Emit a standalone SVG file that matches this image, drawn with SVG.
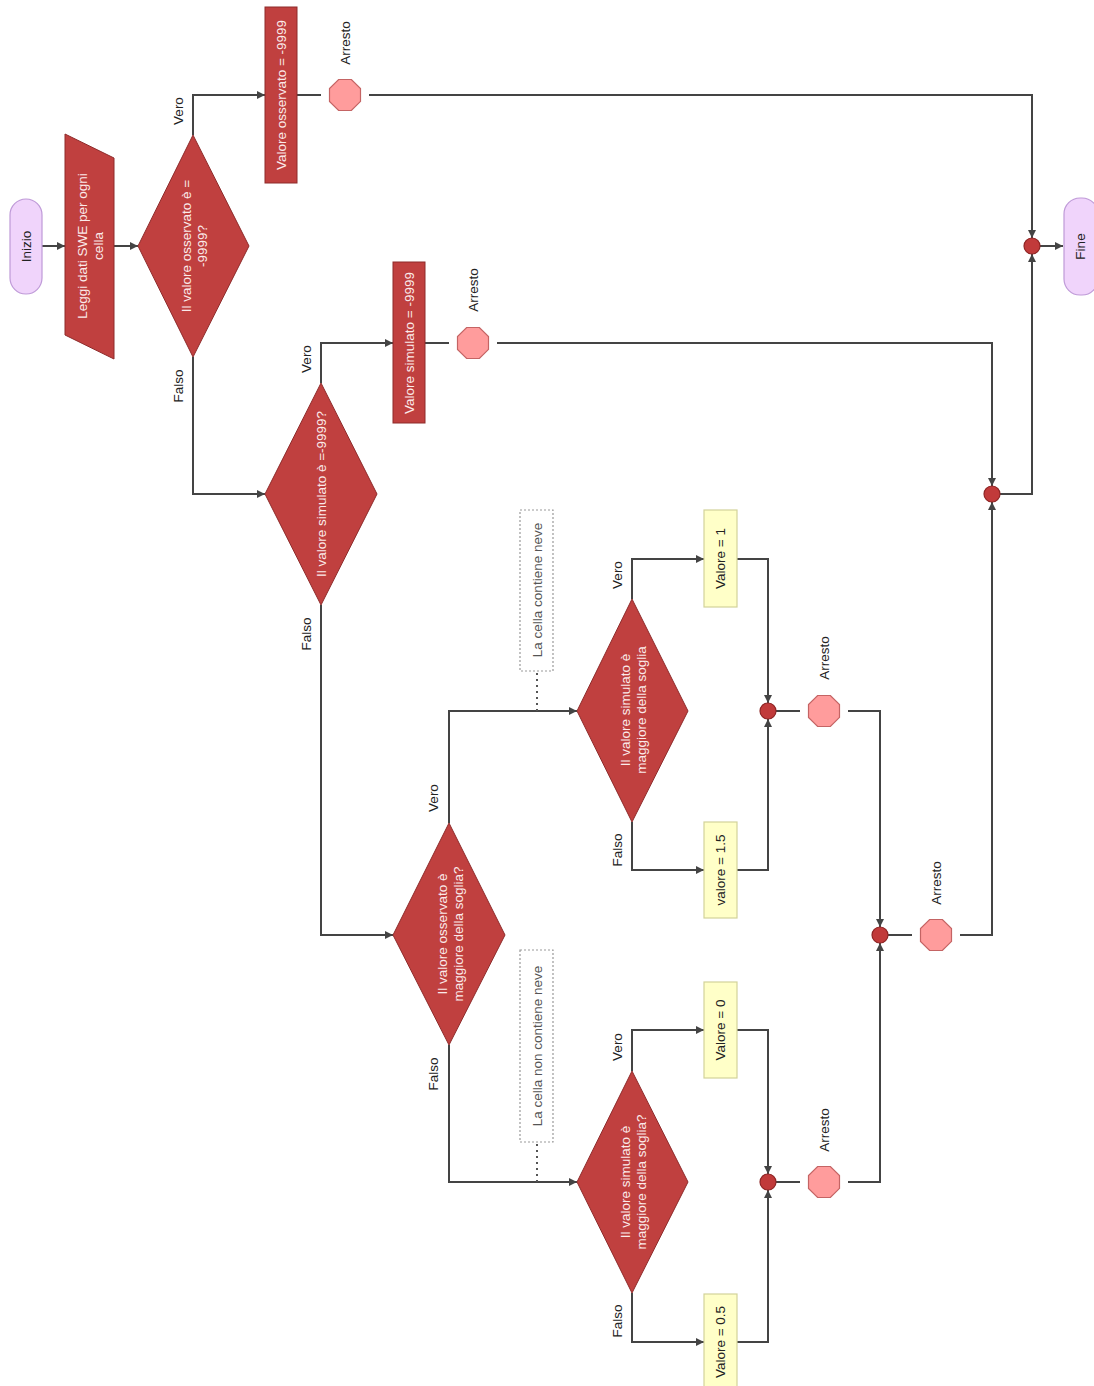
<svg xmlns="http://www.w3.org/2000/svg" width="1094" height="1386" viewBox="0 0 1094 1386">
<style>
text{font-family:"Liberation Sans",Arial,sans-serif;font-size:13.5px;text-anchor:middle;dominant-baseline:central}
.term{fill:#f0d4fb;stroke:#bf9ad8;stroke-width:1.2}
.red{fill:#c0403f;stroke:#8e2b2b;stroke-width:1}
.yel{fill:#ffffc8;stroke:#d2d29a;stroke-width:1.2}
.oct{fill:#ff9c9c;stroke:#c46464;stroke-width:1.2}
.jn{fill:#c13a3a;stroke:#8e2424;stroke-width:1.2}
.note{fill:#fff;stroke:#999;stroke-width:1.2;stroke-dasharray:2 2}
.wt{fill:#fbeaea}
.dk{fill:#222}
.gr{fill:#555}
.c{fill:none;stroke:#444;stroke-width:2}
.dot{fill:none;stroke:#555;stroke-width:2;stroke-dasharray:2 4}
</style>
<defs>
<marker id="a" markerUnits="userSpaceOnUse" markerWidth="10" markerHeight="10" refX="8" refY="4" orient="auto"><path d="M0,0 L8,4 L0,8 z" fill="#444"/></marker>
<polygon id="oc" points="15.5,6.4 6.4,15.5 -6.4,15.5 -15.5,6.4 -15.5,-6.4 -6.4,-15.5 6.4,-15.5 15.5,-6.4"/>
</defs>
<g id="connectors">
<path class="c" d="M42,246 H65" marker-end="url(#a)"/>
<path class="c" d="M114,246 H138" marker-end="url(#a)"/>
<path class="c" d="M193,135 V95 H265" marker-end="url(#a)"/>
<path class="c" d="M297,95 H321"/>
<path class="c" d="M369,95 H1032 V238" marker-end="url(#a)"/>
<path class="c" d="M193,357 V494 H265" marker-end="url(#a)"/>
<path class="c" d="M321,383 V343 H393" marker-end="url(#a)"/>
<path class="c" d="M425,343 H449"/>
<path class="c" d="M497,343 H992 V486" marker-end="url(#a)"/>
<path class="c" d="M321,605 V935 H393" marker-end="url(#a)"/>
<path class="c" d="M449,823 V711 H577" marker-end="url(#a)"/>
<path class="c" d="M449,1045 V1182 H577" marker-end="url(#a)"/>
<path class="c" d="M632,599 V559 H704" marker-end="url(#a)"/>
<path class="c" d="M632,822 V870 H704" marker-end="url(#a)"/>
<path class="c" d="M737,559 H768 V703" marker-end="url(#a)"/>
<path class="c" d="M737,870 H768 V719" marker-end="url(#a)"/>
<path class="c" d="M776,711 H800"/>
<path class="c" d="M848,711 H880 V927" marker-end="url(#a)"/>
<path class="c" d="M632,1071 V1030 H704" marker-end="url(#a)"/>
<path class="c" d="M632,1293 V1342 H704" marker-end="url(#a)"/>
<path class="c" d="M737,1030 H768 V1174" marker-end="url(#a)"/>
<path class="c" d="M737,1342 H768 V1190" marker-end="url(#a)"/>
<path class="c" d="M776,1182 H800"/>
<path class="c" d="M848,1182 H880 V943" marker-end="url(#a)"/>
<path class="c" d="M888,935 H912"/>
<path class="c" d="M960,935 H992 V502" marker-end="url(#a)"/>
<path class="c" d="M1000,494 H1032 V254" marker-end="url(#a)"/>
<path class="c" d="M1040,246 H1063" marker-end="url(#a)"/>
<path class="dot" d="M537,673 V711"/>
<path class="dot" d="M537,1144 V1182"/>
<text class="dk" transform="translate(178,111) rotate(-90)">Vero</text>
<text class="dk" transform="translate(178,386) rotate(-90)">Falso</text>
<text class="dk" transform="translate(306,359) rotate(-90)">Vero</text>
<text class="dk" transform="translate(306,634) rotate(-90)">Falso</text>
<text class="dk" transform="translate(433,798) rotate(-90)">Vero</text>
<text class="dk" transform="translate(433,1074) rotate(-90)">Falso</text>
<text class="dk" transform="translate(617,575) rotate(-90)">Vero</text>
<text class="dk" transform="translate(617,850) rotate(-90)">Falso</text>
<text class="dk" transform="translate(617,1047) rotate(-90)">Vero</text>
<text class="dk" transform="translate(617,1321) rotate(-90)">Falso</text>
</g>
<g id="inizio"><rect class="term" x="10" y="199" width="32" height="95" rx="16"/><text class="dk" transform="translate(26,246.5) rotate(-90)">Inizio</text></g>
<g id="leggi"><polygon class="red" points="65,134 114,158 114,359 65,335"/><text class="wt" transform="translate(90,246) rotate(-90)"><tspan x="0" dy="-0.6em">Leggi dati SWE per ogni</tspan><tspan x="0" dy="1.2em">cella</tspan></text></g>
<g id="d1"><polygon class="red" points="138,246 193,135 249,246 193,357"/><text class="wt" transform="translate(194,246) rotate(-90)"><tspan x="0" dy="-0.6em">Il valore osservato è =</tspan><tspan x="0" dy="1.2em">-9999?</tspan></text></g>
<g id="r1"><rect class="red" x="265" y="7" width="32" height="176"/><text class="wt" transform="translate(281,95) rotate(-90)">Valore osservato = -9999</text></g>
<g id="s1"><use href="#oc" class="oct" x="345" y="95"/><text class="dk" transform="translate(345,43) rotate(-90)">Arresto</text></g>
<g id="d2"><polygon class="red" points="265,494 321,383 377,494 321,605"/><text class="wt" transform="translate(321,494) rotate(-90)">Il valore simulato è =-9999?</text></g>
<g id="r2"><rect class="red" x="393" y="262" width="32" height="161"/><text class="wt" transform="translate(409,343) rotate(-90)">Valore simulato = -9999</text></g>
<g id="s2"><use href="#oc" class="oct" x="473" y="343"/><text class="dk" transform="translate(473,290) rotate(-90)">Arresto</text></g>
<g id="d3"><polygon class="red" points="393,935 449,823 505,935 449,1045"/><text class="wt" transform="translate(450,934) rotate(-90)"><tspan x="0" dy="-0.6em">Il valore osservato è</tspan><tspan x="0" dy="1.2em">maggiore della soglia?</tspan></text></g>
<g id="n1"><rect class="note" x="520" y="510" width="33" height="161"/><text class="gr" transform="translate(537,590) rotate(-90)">La cella contiene neve</text></g>
<g id="d4"><polygon class="red" points="577,711 632,599 688,711 632,822"/><text class="wt" transform="translate(633,710) rotate(-90)"><tspan x="0" dy="-0.6em">Il valore simulato è</tspan><tspan x="0" dy="1.2em">maggiore della soglia</tspan></text></g>
<g id="y1"><rect class="yel" x="704" y="510" width="33" height="97"/><text class="dk" transform="translate(720.5,558.5) rotate(-90)">Valore = 1</text></g>
<g id="y2"><rect class="yel" x="704" y="822" width="33" height="96"/><text class="dk" transform="translate(720.5,870) rotate(-90)">valore = 1.5</text></g>
<g id="j1"><circle class="jn" cx="768" cy="711" r="8"/></g>
<g id="s3"><use href="#oc" class="oct" x="824" y="711"/><text class="dk" transform="translate(824,658) rotate(-90)">Arresto</text></g>
<g id="n2"><rect class="note" x="520" y="950" width="33" height="192"/><text class="gr" transform="translate(537,1046) rotate(-90)">La cella non contiene neve</text></g>
<g id="d5"><polygon class="red" points="577,1182 632,1071 688,1182 632,1293"/><text class="wt" transform="translate(633,1182) rotate(-90)"><tspan x="0" dy="-0.6em">Il valore simulato è</tspan><tspan x="0" dy="1.2em">maggiore della soglia?</tspan></text></g>
<g id="y3"><rect class="yel" x="704" y="982" width="33" height="96"/><text class="dk" transform="translate(720.5,1030) rotate(-90)">Valore = 0</text></g>
<g id="y4"><rect class="yel" x="704" y="1294" width="33" height="96"/><text class="dk" transform="translate(720.5,1342) rotate(-90)">Valore = 0.5</text></g>
<g id="j3"><circle class="jn" cx="768" cy="1182" r="8"/></g>
<g id="s4"><use href="#oc" class="oct" x="824" y="1182"/><text class="dk" transform="translate(824,1130) rotate(-90)">Arresto</text></g>
<g id="j2"><circle class="jn" cx="880" cy="935" r="8"/></g>
<g id="s5"><use href="#oc" class="oct" x="936" y="935"/><text class="dk" transform="translate(936,883) rotate(-90)">Arresto</text></g>
<g id="j4"><circle class="jn" cx="992" cy="494" r="8"/></g>
<g id="j5"><circle class="jn" cx="1032" cy="246" r="8"/></g>
<g id="fine"><rect class="term" x="1064" y="198" width="34" height="97" rx="16"/><text class="dk" transform="translate(1080,246.5) rotate(-90)">Fine</text></g>
</svg>
